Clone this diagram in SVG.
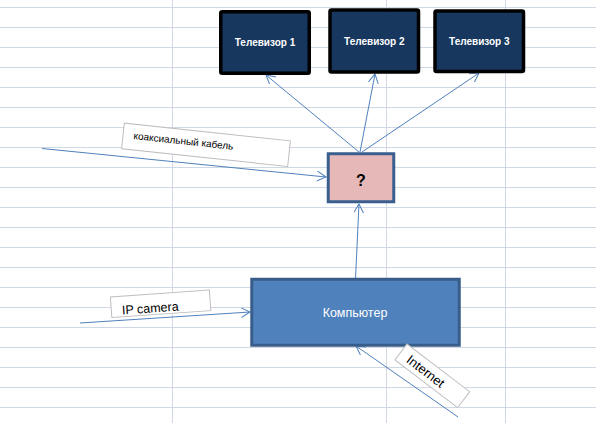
<svg xmlns="http://www.w3.org/2000/svg" width="596" height="423" viewBox="0 0 596 423">
<style>
.grid line{stroke:#d0d7e5;stroke-width:1}
.tv rect{fill:#17375e;stroke:#000;stroke-width:3.5}
.tv text{fill:#fff;font-family:"Liberation Sans",Arial,sans-serif;font-size:10px;font-weight:bold;text-anchor:middle}
.conn line{stroke:#4f81bd;stroke-width:1;fill:none;marker-end:url(#arr)}
.lbl rect{fill:#fff;stroke:#bfbfbf;stroke-width:1}
.lbl text{fill:#000;font-family:"Liberation Sans",Arial,sans-serif}
</style>
<defs>
<marker id="arr" markerUnits="userSpaceOnUse" markerWidth="12" markerHeight="12" refX="9" refY="5" orient="auto">
<path d="M0,0 L9,5 L0,10" fill="none" stroke="#4f81bd" stroke-width="1"/>
</marker>
</defs>
<rect width="596" height="423" fill="#fff"/>
<g class="grid">
<line x1="0" y1="7.5" x2="596" y2="7.5"/><line x1="0" y1="27.5" x2="596" y2="27.5"/><line x1="0" y1="47.5" x2="596" y2="47.5"/><line x1="0" y1="67.5" x2="596" y2="67.5"/><line x1="0" y1="87.5" x2="596" y2="87.5"/><line x1="0" y1="107.5" x2="596" y2="107.5"/><line x1="0" y1="127.5" x2="596" y2="127.5"/><line x1="0" y1="147.5" x2="596" y2="147.5"/><line x1="0" y1="167.5" x2="596" y2="167.5"/><line x1="0" y1="187.5" x2="596" y2="187.5"/><line x1="0" y1="207.5" x2="596" y2="207.5"/><line x1="0" y1="227.5" x2="596" y2="227.5"/><line x1="0" y1="247.5" x2="596" y2="247.5"/><line x1="0" y1="267.5" x2="596" y2="267.5"/><line x1="0" y1="287.5" x2="596" y2="287.5"/><line x1="0" y1="307.5" x2="596" y2="307.5"/><line x1="0" y1="327.5" x2="596" y2="327.5"/><line x1="0" y1="347.5" x2="596" y2="347.5"/><line x1="0" y1="367.5" x2="596" y2="367.5"/><line x1="0" y1="387.5" x2="596" y2="387.5"/><line x1="0" y1="407.5" x2="596" y2="407.5"/>
<line x1="172.5" y1="0" x2="172.5" y2="423"/><line x1="386.5" y1="0" x2="386.5" y2="423"/><line x1="505.5" y1="0" x2="505.5" y2="423"/>
</g>
<g class="conn">
<line x1="359" y1="152" x2="266" y2="75"/>
<line x1="360" y1="152" x2="375" y2="74"/>
<line x1="362" y1="152" x2="479" y2="73"/>
<line x1="355.5" y1="279" x2="359" y2="204"/>
<line x1="42" y1="148.5" x2="326" y2="177"/>
<line x1="80" y1="323" x2="250" y2="312"/>
<line x1="458" y1="417" x2="356" y2="346"/>
</g>
<g id="tv1" class="tv"><rect x="220.75" y="11.75" width="88.5" height="61.5" rx="1.5"/><text x="265" y="46">Телевизор 1</text></g>
<g id="tv2" class="tv"><rect x="330" y="10" width="88.5" height="62" rx="1.5"/><text x="374.3" y="45">Телевизор 2</text></g>
<g id="tv3" class="tv"><rect x="435" y="11" width="88.5" height="60.5" rx="1.5"/><text x="479.3" y="45">Телевизор 3</text></g>
<g id="q"><rect x="328.25" y="153.75" width="65.5" height="48" fill="#e6b9b8" stroke="#3a5f8f" stroke-width="3"/><text x="361" y="186" font-family="'Liberation Sans',Arial,sans-serif" font-size="16" font-weight="bold" text-anchor="middle" fill="#000">?</text></g>
<g id="pc"><rect x="251.75" y="279.25" width="207.5" height="66" fill="#4f81bd" stroke="#385d8a" stroke-width="3"/><text x="355" y="317" font-family="'Liberation Sans',Arial,sans-serif" font-size="12.5" text-anchor="middle" fill="#fff">Компьютер</text></g>
<g id="lbl-coax" class="lbl" transform="translate(206,144.8) rotate(6.1)"><rect x="-83.5" y="-12.9" width="167" height="25.8"/><text x="-73" y="2" font-size="10">коаксиальный кабель</text></g>
<g id="lbl-ip" class="lbl" transform="translate(160.6,303.8) rotate(-4)"><rect x="-49.6" y="-10.3" width="99.2" height="20.6"/><text x="-39" y="8" font-size="12.5">IP camera</text></g>
<g id="lbl-inet" class="lbl" transform="translate(432.3,375.8) rotate(37.3)"><rect x="-39.4" y="-10" width="78.8" height="20"/><text x="-30" y="5" font-size="13">Internet</text></g>
</svg>
